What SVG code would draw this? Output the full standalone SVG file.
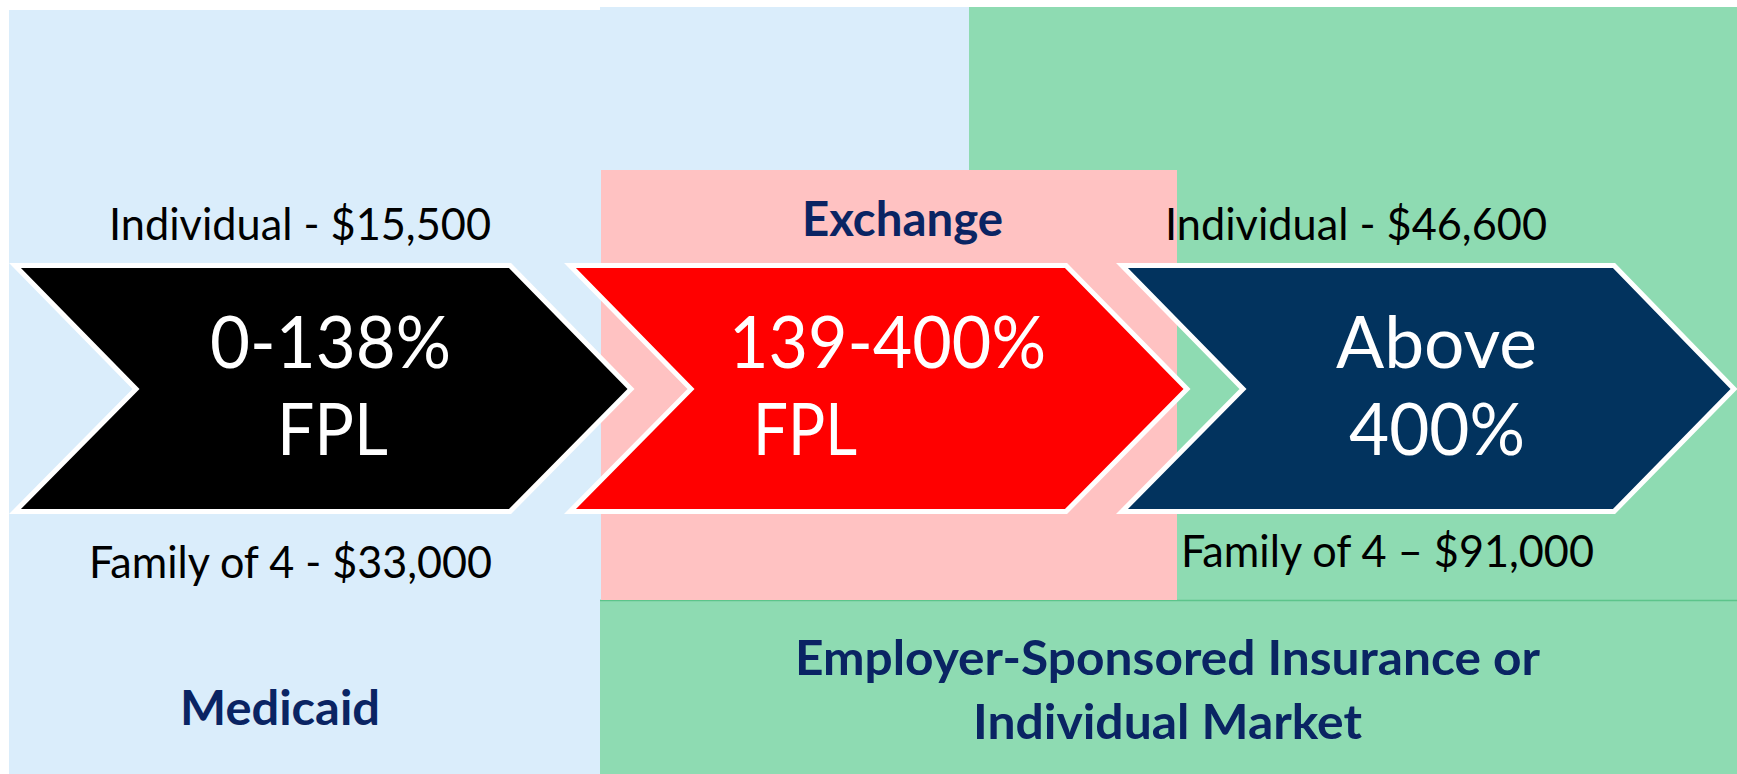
<svg xmlns="http://www.w3.org/2000/svg" width="1737" height="774" viewBox="0 0 1737 774">
<style>
.blue{fill:#DAEDFB}
.green{fill:#8EDBB2}
.pink{fill:#FFC2C2}
.chev{stroke:#FFFFFF;stroke-width:5;stroke-linejoin:miter}
.lbl{font-family:Lato,"Open Sans","Liberation Sans",sans-serif;fill:#000000;font-size:44px}
.big{font-family:Lato,"Open Sans","Liberation Sans",sans-serif;fill:#FFFFFF;font-size:72px}
.head{font-family:Lato,"Open Sans","Liberation Sans",sans-serif;fill:#0A2463;font-size:47px;font-weight:bold}
</style>
<rect width="1737" height="774" fill="#FFFFFF"/>
<g id="medicaid-region">
<rect class="blue" x="9" y="10" width="592" height="764"/>
<rect class="blue" x="600" y="7" width="370" height="164"/>
<text class="head" x="180" y="725" textLength="200" lengthAdjust="spacingAndGlyphs">Medicaid</text>
</g>
<g id="employer-region">
<rect class="green" x="969" y="7" width="768" height="594"/>
<rect class="green" x="600" y="600" width="1137" height="174"/>
<line x1="600" y1="600.5" x2="1737" y2="600.5" stroke="#5CC48B" stroke-width="1.5"/>
<text class="head" x="795" y="675" textLength="745" lengthAdjust="spacingAndGlyphs">Employer-Sponsored Insurance or</text>
<text class="head" x="973" y="739" textLength="389" lengthAdjust="spacingAndGlyphs">Individual Market</text>
</g>
<g id="exchange-region">
<rect class="pink" x="601" y="170" width="576" height="430"/>
<text class="head" x="802" y="236" textLength="201" lengthAdjust="spacingAndGlyphs">Exchange</text>
</g>
<g id="connectors"></g>
<g id="chevron-medicaid">
<polygon class="chev" fill="#000000" points="15,265.5 510,265.5 631,389 510,511.5 15,511.5 136,389"/>
<text class="big" x="210" y="368" textLength="241" lengthAdjust="spacingAndGlyphs">0-138%</text>
<text class="big" x="277" y="455" textLength="111" lengthAdjust="spacingAndGlyphs">FPL</text>
</g>
<g id="chevron-exchange">
<polygon class="chev" fill="#FF0000" points="570,265.5 1066,265.5 1187,389 1066,511.5 570,511.5 691,389"/>
<text class="big" x="729" y="368" textLength="317" lengthAdjust="spacingAndGlyphs">139-400%</text>
<text class="big" x="753" y="455" textLength="104" lengthAdjust="spacingAndGlyphs">FPL</text>
</g>
<g id="chevron-above">
<polygon class="chev" fill="#02335E" points="1122,265.5 1614,265.5 1734,389 1614,511.5 1122,511.5 1243,389"/>
<text class="big" x="1336" y="368" textLength="201" lengthAdjust="spacingAndGlyphs">Above</text>
<text class="big" x="1349" y="455" textLength="176" lengthAdjust="spacingAndGlyphs">400%</text>
</g>
<g id="income-labels">
<text class="lbl" x="109" y="240" textLength="382" lengthAdjust="spacingAndGlyphs">Individual - $15,500</text>
<text class="lbl" x="89" y="578" textLength="403" lengthAdjust="spacingAndGlyphs">Family of 4 - $33,000</text>
<text class="lbl" x="1165" y="240" textLength="382" lengthAdjust="spacingAndGlyphs">Individual - $46,600</text>
<text class="lbl" x="1181" y="567" textLength="413" lengthAdjust="spacingAndGlyphs">Family of 4 – $91,000</text>
</g>
</svg>
